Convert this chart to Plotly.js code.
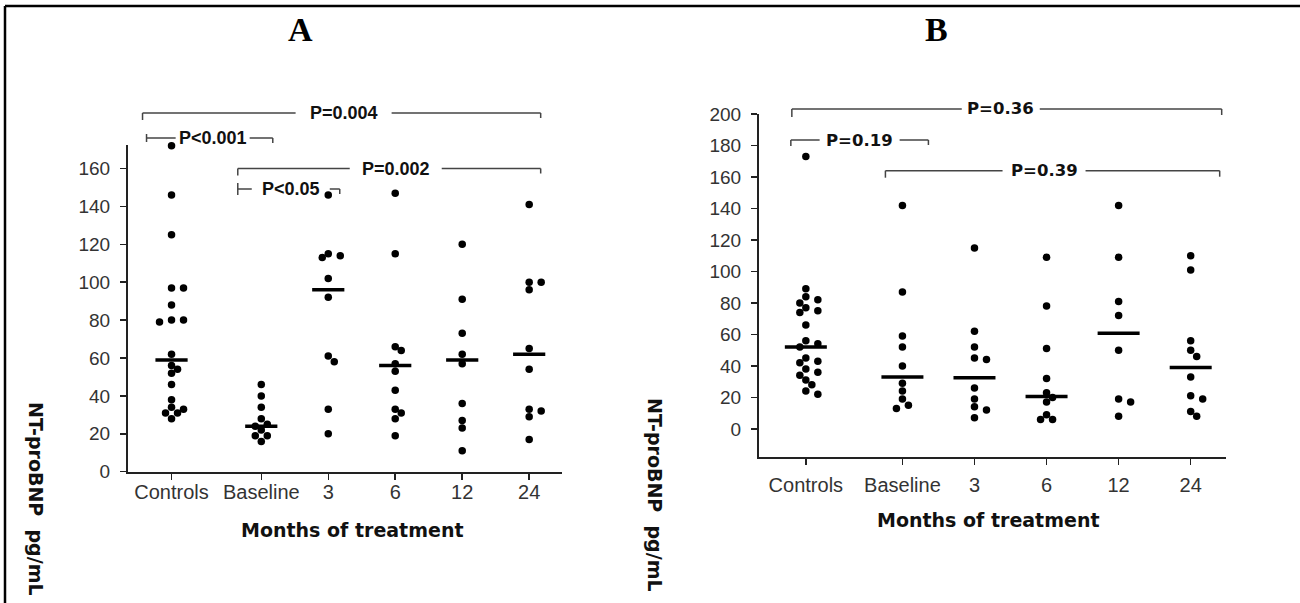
<!DOCTYPE html>
<html><head><meta charset="utf-8">
<script src="https://cdn.plot.ly/plotly-3.0.1.min.js"></script>
<style>html,body{margin:0;padding:0;background:#fff;} #chart{width:1300px;height:603px;}</style>
</head><body><div id="chart"></div>
<script>
// ---------------- data ----------------
const categories = ["Controls","Baseline","3","6","12","24"];
const yTickValsA = [0,20,40,60,80,100,120,140,160];
const yTickValsB = [0,20,40,60,80,100,120,140,160,180,200];

const A_controls = [172,146,125,97,97,88,80,80,79,62,56,54,52,46,38,34,33,31,31,28];
const A_baseline = [46,40,34,28,25,24,22,19,19,16];
const A_month3   = [146,115,114,113,102,92,61,58,33,20];
const A_month6   = [147,115,66,64,57,53,43,33,31,28,19];
const A_month12  = [120,91,73,62,57,36,27,23,11];
const A_month24  = [141,100,100,96,65,54,33,32,29,17];
const A_medians  = [59,24,96,56,59,62];

const B_controls = [173,89,84,82,80,77,75,74,66,56,54,52,45,43,42,38,36,34,31,28,24,22];
const B_baseline = [142,87,59,52,40,29,24,19,15,13];
const B_month3   = [115,62,52,45,44,26,19,14,12,7];
const B_month6   = [109,78,51,32,23,20,17,9,6,6];
const B_month12  = [142,109,81,72,50,19,17,8];
const B_month24  = [110,101,56,50,46,33,21,19,11,8];
const B_medians  = [52,33,32.5,20.5,60.7,39];

const A_pLabels = ["P=0.004","P<0.001","P=0.002","P<0.05"];
const A_pFrom   = [0,0,1,1];
const A_pTo     = [5,1,5,2];
const B_pLabels = ["P=0.36","P=0.19","P=0.39"];
const B_pFrom   = [0,0,1];
const B_pTo     = [5,1,5];

// ---------------- geometry / style ----------------
const W = 1300, H = 603;
const catPos = categories.map((c,i) => i === 0 ? 0 : i + 0.34);
const xRange = [-0.65, 5.83];
const panels = {
  A: {x0:128, x1:562, yTop:145, yBot:471.7, yRange:[0,172.4], medSize:23},
  B: {x0:759, x1:1226, yTop:113.5, yBot:456.7, yRange:[-17.7,200.4], medSize:30}
};
function pxX(p, pos){ const g = panels[p]; return g.x0 + (pos - xRange[0])/(xRange[1]-xRange[0])*(g.x1-g.x0); }
function pxPerUnitX(p){ const g = panels[p]; return (g.x1-g.x0)/(xRange[1]-xRange[0]); }
function pxPerUnitY(p){ const g = panels[p]; return (g.yBot-g.yTop)/(g.yRange[1]-g.yRange[0]); }
const px = x => x/W, py = y => 1 - y/H;

function swarm(values, kY, step, minDist){
  const placed = [], offs = [];
  values.forEach(v => {
    const y = v*kY;
    for (let k=0;k<30;k++){
      const o = k===0 ? 0 : (k%2===1 ? 1 : -1)*Math.ceil(k/2)*step;
      if (placed.every(p => Math.hypot(p.x-o, p.y-y) >= minDist)) { placed.push({x:o,y:y}); offs.push(o); break; }
    }
  });
  return offs;
}

const traces = [];
function addPanel(p, groups, medians, xa, ya){
  const kY = pxPerUnitY(p), kX = pxPerUnitX(p);
  groups.forEach((vals, i) => {
    const offs = swarm(vals, kY, 6, 6.8);
    traces.push({type:'scatter', mode:'markers', xaxis:xa, yaxis:ya,
      x: vals.map((v,j) => catPos[i] + offs[j]/kX), y: vals,
      marker:{color:'#000', size:7.5}, hoverinfo:'y', showlegend:false, cliponaxis:false});
  });
  traces.push({type:'scatter', mode:'markers', xaxis:xa, yaxis:ya, x:catPos, y:medians,
    marker:{symbol:'line-ew', size:panels[p].medSize, color:'#000', line:{color:'#000', width:3.5}},
    hoverinfo:'y', showlegend:false});
}
addPanel('A', [A_controls,A_baseline,A_month3,A_month6,A_month12,A_month24], A_medians, 'x', 'y');
addPanel('B', [B_controls,B_baseline,B_month3,B_month6,B_month12,B_month24], B_medians, 'x2', 'y2');

const yTickFont = {family:'Liberation Sans, Arial, sans-serif', size:19, color:'#333'};
const xTickFont = {family:'Liberation Sans, Arial, sans-serif', size:20, color:'#333'};
function xAxis(p, anchor, standoff){
  const g = panels[p];
  return {domain:[g.x0/W, g.x1/W], range:xRange, anchor:anchor, tickvals:catPos, ticktext:categories,
    showline:true, linecolor:'#222', linewidth:2, ticks:'outside', ticklen:6, tickwidth:1.5, tickcolor:'#222',
    showgrid:false, zeroline:false, tickfont:xTickFont, ticklabelstandoff:standoff, fixedrange:true};
}
function yAxis(p, anchor, tv){
  const g = panels[p];
  return {domain:[py(g.yBot), py(g.yTop)], range:g.yRange, anchor:anchor, tickvals:tv,
    showline:true, linecolor:'#222', linewidth:2, ticks:'outside', ticklen:6, tickwidth:1.5, tickcolor:'#222',
    showgrid:false, zeroline:false, tickfont:yTickFont, ticklabelstandoff:6, fixedrange:true};
}

// bracket style: [lineY, leftOff, rightOff, leftTickUp, leftTickDown, rightTickDown, gapLeft, gapRight]
const A_bStyle = [[113,-29,11.5,0,7,5,-46,50],[138,-25,11.5,4,4,5,-34,40],[168.5,-23.5,11.5,0,7,5,-39.5,52.5],[189,-23.5,11.5,6,6,5,-37,41]];
const B_bStyle = [[109,-14,31,0,8,6,-45,33],[140,-15,26,0,6,5,-40,40],[170.7,-17,29,0,7,6,-50,33]];
const shapes = [], annotations = [];
const lineStyle = {color:'#444', width:1.5};
function seg(x0,y0,x1,y1){ shapes.push({type:'line', xref:'paper', yref:'paper', x0:px(x0), x1:px(x1), y0:py(y0), y1:py(y1), line:lineStyle}); }
function ann(x, y, text, font, extra){
  annotations.push(Object.assign({xref:'paper', yref:'paper', x:px(x), y:py(y), text:text, showarrow:false,
    xanchor:'center', yanchor:'middle', font:font}, extra||{}));
}
function addBrackets(p, labels, from, to, style, font){
  labels.forEach((lab,i) => {
    const s = style[i];
    const xl = pxX(p, catPos[from[i]]) + s[1], xr = pxX(p, catPos[to[i]]) + s[2], y = s[0];
    const mid = (xl+xr)/2;
    seg(xl, y, mid + s[6], y);
    seg(mid + s[7], y, xr, y);
    seg(xl, y - s[3], xl, y + s[4]);
    seg(xr, y, xr, y + s[5]);
    ann(mid + (s[6]+s[7])/2, y, lab, font);
  });
}
addBrackets('A', A_pLabels, A_pFrom, A_pTo, A_bStyle, {family:'Liberation Sans, Arial, sans-serif', size:18, color:'#111', weight:'bold'});
addBrackets('B', B_pLabels, B_pFrom, B_pTo, B_bStyle, {family:'DejaVu Sans, sans-serif', size:16.5, color:'#111', weight:'bold'});

// panel titles & axis titles
const titleFont = {family:'Liberation Serif, Times New Roman, serif', size:34, color:'#000', weight:'bold'};
ann(300, 30, 'A', titleFont);
ann(937, 30, 'B', titleFont);
const axTitleFont = {family:'DejaVu Sans, sans-serif', size:19, color:'#111', weight:'bold'};
ann(352, 530, 'Months of treatment', axTitleFont);
ann(988, 520, 'Months of treatment', axTitleFont);
const yTitleFont = {family:'DejaVu Sans, sans-serif', size:19, color:'#111', weight:'bold'};
ann(36, 499, 'NT-proBNP\u00a0\u00a0pg/mL', yTitleFont, {textangle:90});
ann(655, 495, 'NT-proBNP\u00a0\u00a0pg/mL', yTitleFont, {textangle:90});

// frame lines
shapes.push({type:'line', xref:'paper', yref:'paper', x0:px(5), x1:1, y0:py(6), y1:py(6), line:{color:'#000', width:2.5}});
shapes.push({type:'line', xref:'paper', yref:'paper', x0:px(5), x1:px(5), y0:py(6), y1:0, line:{color:'#000', width:2.5}});

const layout = {
  width:W, height:H, margin:{l:0,r:0,t:0,b:0}, paper_bgcolor:'#fff', plot_bgcolor:'rgba(0,0,0,0)',
  showlegend:false,
  xaxis: xAxis('A','y',-5), yaxis: yAxis('A','x',yTickValsA),
  xaxis2: xAxis('B','y2',3), yaxis2: yAxis('B','x2',yTickValsB),
  shapes: shapes, annotations: annotations
};
Plotly.newPlot('chart', traces, layout, {displayModeBar:false, staticPlot:true});
</script></body></html>
